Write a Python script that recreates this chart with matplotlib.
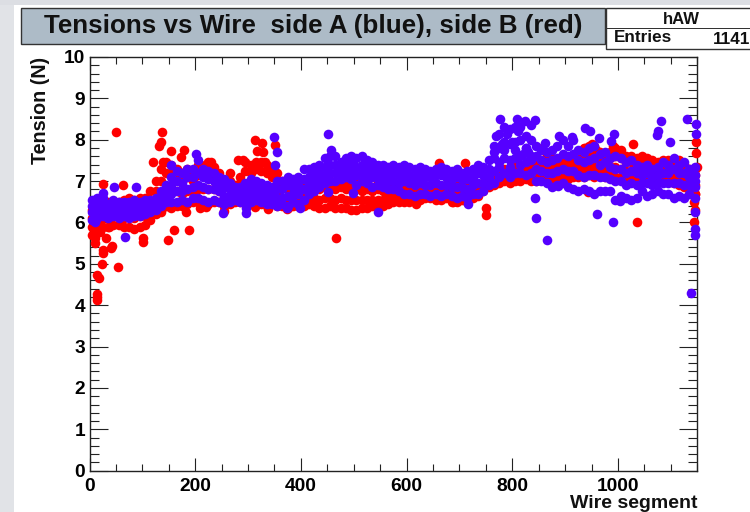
import numpy as np
import matplotlib
matplotlib.use("Agg")
import matplotlib.pyplot as plt
from matplotlib.patches import Rectangle

# wire segment columns, one every 10 wires
wire = np.arange(5, 1155, 10)

blue_top = [6.55,6.6,6.6,6.45,6.55,6.5,6.5,6.5,6.55,6.5,
            6.55,6.55,6.6,6.75,6.9,7.1,7.25,7.2,7.3,7.3,
            7.5,7.3,7.25,7.2,7.1,7.05,6.95,6.85,6.85,6.95,
            7.05,7.0,6.95,6.9,6.85,7.0,7.0,7.1,7.05,7.1,
            7.3,7.3,7.35,7.4,7.55,7.6,7.6,7.45,7.55,7.6,
            7.55,7.6,7.5,7.45,7.4,7.4,7.35,7.4,7.35,7.4,
            7.35,7.3,7.35,7.3,7.25,7.3,7.35,7.3,7.25,7.3,
            7.2,7.25,7.3,7.4,7.35,7.5,7.85,8.15,8.3,8.25,
            8.3,8.3,8.1,8.35,7.85,7.75,7.7,7.75,7.85,8.0,
            7.85,8.0,7.75,7.7,7.8,7.85,7.65,7.7,7.55,7.6,
            7.55,7.45,7.5,7.4,7.35,7.4,7.3,7.35,7.45,7.4,
            7.55,7.4,7.45,7.3,7.35]
blue_upper = [6.4,6.45,6.45,6.35,6.4,6.4,6.35,6.4,6.4,6.4,
              6.4,6.45,6.5,6.6,6.75,6.9,7.0,6.95,7.1,7.1,
              7.2,7.1,7.05,7.0,6.95,6.85,6.8,6.75,6.7,6.8,
              6.85,6.85,6.8,6.75,6.7,6.8,6.8,6.9,6.85,6.9,
              7.05,7.1,7.15,7.2,7.35,7.4,7.4,7.3,7.4,7.4,
              7.35,7.4,7.3,7.3,7.2,7.25,7.15,7.2,7.15,7.2,
              7.15,7.1,7.15,7.1,7.1,7.15,7.15,7.1,7.05,7.1,
              7.05,7.05,7.1,7.2,7.15,7.3,7.55,7.8,7.95,7.9,
              7.95,8.0,7.8,8.0,7.6,7.5,7.45,7.5,7.55,7.65,
              7.6,7.65,7.5,7.45,7.5,7.55,7.4,7.45,7.35,7.3,
              7.3,7.2,7.25,7.2,7.15,7.2,7.1,7.15,7.2,7.2,
              7.3,7.2,7.2,7.1,7.15]
blue_lower = [6.25,6.3,6.3,6.2,6.3,6.25,6.25,6.25,6.3,6.25,
              6.3,6.3,6.4,6.5,6.6,6.7,6.75,6.75,6.8,6.85,
              6.9,6.85,6.8,6.8,6.75,6.65,6.65,6.65,6.6,6.65,
              6.7,6.7,6.65,6.6,6.6,6.6,6.6,6.65,6.7,6.7,
              6.8,6.9,6.95,7.05,7.15,7.2,7.2,7.2,7.25,7.2,
              7.15,7.2,7.15,7.1,7.05,7.05,7.0,7.0,6.95,7.0,
              6.95,6.9,6.95,6.9,6.9,6.95,6.9,6.9,6.85,6.85,
              6.85,6.8,6.9,6.95,6.95,7.1,7.25,7.45,7.55,7.5,
              7.55,7.6,7.45,7.6,7.3,7.25,7.2,7.2,7.25,7.3,
              7.25,7.25,7.15,7.1,7.15,7.15,7.1,7.1,7.05,7.0,
              7.0,6.9,6.95,6.9,6.95,6.95,6.9,6.95,6.95,6.95,
              6.95,6.95,6.9,6.9,6.85]
blue_bottom = [6.05,6.1,6.15,6.1,6.15,6.1,6.15,6.1,6.15,6.15,
               6.2,6.25,6.3,6.4,6.5,6.5,6.5,6.55,6.5,6.6,
               6.6,6.55,6.5,6.55,6.5,6.45,6.5,6.55,6.5,6.55,
               6.5,6.55,6.5,6.45,6.45,6.4,6.45,6.4,6.5,6.45,
               6.55,6.7,6.75,6.85,6.95,7.0,7.0,7.05,7.1,7.05,
               6.9,7.0,6.95,6.85,6.9,6.85,6.8,6.8,6.75,6.7,
               6.7,6.65,6.7,6.7,6.65,6.7,6.65,6.7,6.65,6.6,
               6.65,6.6,6.7,6.7,6.75,6.9,6.95,7.1,7.2,7.15,
               7.2,7.2,7.15,7.2,7.0,7.0,6.95,6.85,6.9,6.95,
               6.85,6.8,6.75,6.8,6.75,6.7,6.75,6.75,6.75,6.55,
               6.65,6.6,6.55,6.6,6.75,6.65,6.7,6.75,6.7,6.7,
               6.6,6.65,6.6,6.7,6.6]

red_top = [6.3,6.4,6.5,6.5,6.5,6.5,6.55,6.6,6.55,6.6,
           6.6,6.75,7.0,7.3,7.45,7.4,7.3,7.2,7.3,7.2,
           7.4,7.35,7.45,7.35,7.2,7.0,7.0,6.9,7.1,7.45,
           7.4,7.45,7.45,7.4,7.3,7.2,7.0,6.95,6.9,6.95,
           6.9,6.95,7.0,6.95,7.0,7.0,6.95,7.0,6.95,7.0,
           6.95,6.9,6.95,6.85,6.95,6.9,6.9,6.85,6.9,6.85,
           6.9,6.85,6.9,6.85,6.85,6.9,6.85,6.9,7.0,6.95,
           6.9,6.85,6.9,6.9,6.95,7.0,7.2,7.25,7.3,7.3,
           7.35,7.3,7.3,7.4,7.45,7.5,7.6,7.55,7.45,7.5,
           7.45,7.5,7.55,7.8,7.85,7.85,7.7,7.6,7.7,7.8,
           7.75,7.6,7.6,7.55,7.6,7.55,7.5,7.45,7.5,7.5,
           7.45,7.5,7.4,7.3,7.3]
red_upper = [6.1,6.2,6.3,6.3,6.3,6.35,6.35,6.4,6.35,6.4,
             6.4,6.5,6.75,7.0,7.2,7.2,7.1,7.0,7.1,7.0,
             7.15,7.15,7.2,7.1,7.0,6.85,6.85,6.8,6.95,7.25,
             7.2,7.3,7.25,7.2,7.1,7.0,6.85,6.8,6.75,6.8,
             6.75,6.8,6.85,6.8,6.85,6.85,6.8,6.85,6.8,6.85,
             6.8,6.75,6.8,6.75,6.8,6.75,6.75,6.75,6.75,6.75,
             6.75,6.75,6.75,6.75,6.75,6.75,6.75,6.8,6.85,6.8,
             6.8,6.75,6.8,6.8,6.85,6.95,7.1,7.15,7.2,7.2,
             7.25,7.2,7.2,7.3,7.3,7.35,7.45,7.4,7.35,7.35,
             7.35,7.35,7.4,7.55,7.6,7.6,7.5,7.45,7.55,7.6,
             7.55,7.45,7.45,7.4,7.45,7.4,7.35,7.35,7.35,7.35,
             7.3,7.3,7.25,7.15,7.15]
red_lower = [5.9,6.0,6.1,6.1,6.15,6.15,6.1,6.15,6.1,6.15,
             6.15,6.25,6.45,6.65,6.8,6.8,6.75,6.7,6.75,6.75,
             6.8,6.8,6.8,6.8,6.75,6.6,6.65,6.65,6.7,6.9,
             6.85,6.9,6.85,6.8,6.8,6.7,6.6,6.55,6.55,6.6,
             6.55,6.6,6.6,6.55,6.6,6.6,6.55,6.6,6.55,6.55,
             6.55,6.55,6.55,6.55,6.55,6.55,6.6,6.6,6.6,6.6,
             6.6,6.65,6.65,6.65,6.7,6.65,6.65,6.7,6.65,6.65,
             6.65,6.6,6.7,6.75,6.8,6.9,7.0,7.05,7.1,7.05,
             7.1,7.1,7.1,7.15,7.15,7.2,7.25,7.2,7.2,7.2,
             7.2,7.2,7.25,7.3,7.35,7.35,7.3,7.25,7.35,7.35,
             7.3,7.25,7.25,7.2,7.25,7.2,7.15,7.2,7.15,7.15,
             7.1,7.1,7.05,7.0,6.9]
red_bottom = [5.7,5.8,5.9,5.9,5.95,5.95,5.9,5.9,5.85,5.9,
              5.95,6.05,6.2,6.25,6.4,6.35,6.4,6.4,6.45,6.5,
              6.5,6.5,6.45,6.5,6.5,6.4,6.45,6.5,6.5,6.55,
              6.5,6.55,6.45,6.4,6.5,6.4,6.4,6.35,6.4,6.4,
              6.4,6.45,6.4,6.35,6.35,6.4,6.35,6.35,6.35,6.3,
              6.3,6.35,6.35,6.4,6.35,6.4,6.45,6.5,6.5,6.5,
              6.5,6.55,6.55,6.6,6.6,6.55,6.55,6.6,6.5,6.5,
              6.55,6.5,6.6,6.65,6.75,6.85,6.9,6.95,7.0,6.95,
              7.0,7.0,7.05,7.0,7.0,7.05,7.0,7.05,7.05,7.1,
              7.05,7.1,7.1,7.1,7.15,7.1,7.15,7.1,7.15,7.1,
              7.1,7.05,7.05,7.0,7.05,7.0,7.0,7.05,7.0,7.0,
              6.95,6.9,6.85,6.8,6.7]

# stray wires away from the main band
red_x = [53,23,14,18,15,15,15,25,40,10,10,26,42,32,37,20,101,101,148,160,189,466,
         182,209,220,314,145,254,337,374,50,138,135,132,154,179,173,120,140,229,
         218,25,63,313,326,316,329,351,281,291,266,332,661,710,617,750,750,688,
         856,1028,1036,1148,1147,1149,1143,1143,943,950,958,938,990,1000,1146,1145]
red_y = [4.92,5.0,4.73,4.65,4.27,4.2,4.13,5.27,5.38,5.62,5.5,5.33,5.42,5.62,5.9,5.78,
         5.62,5.53,5.58,5.82,5.82,5.62,6.26,6.35,6.37,6.37,6.39,6.28,6.33,6.32,
         8.18,8.18,7.95,7.85,7.73,7.76,7.58,7.47,7.47,7.45,7.4,6.92,6.9,7.99,7.92,
         7.72,7.7,7.88,7.5,7.5,7.2,7.47,7.43,7.43,6.44,6.35,6.17,6.5,7.8,7.9,6.02,
         7.95,7.67,7.34,6.5,6.02,6.74,7.9,7.75,7.8,7.85,7.7,6.7,6.3]
blue_x = [777,808,824,842,1081,1131,1148,1147,1076,1073,1098,938,947,964,993,987,912,
          888,862,843,845,866,961,991,1004,716,886,796,1146,1145,1145,1138,1146,
          47,88,26,67,11,201,349,354,351,452,457,252,296,297,398,373,452,499,545,
          155,765,775,785,795,805,815,825,835,770,790,810,830,780,800,820]
blue_y = [8.49,8.49,8.46,8.48,8.46,8.49,8.38,8.15,8.2,8.12,7.94,8.29,8.2,8.05,8.13,7.96,
          8.07,8.09,7.92,6.6,6.12,5.58,6.21,6.0,6.52,6.44,6.88,7.11,6.25,5.85,5.7,4.3,
          7.0,6.85,6.85,6.72,5.66,6.02,7.65,8.07,7.7,7.4,8.15,7.75,6.22,6.22,6.35,
          6.35,6.34,6.73,6.72,6.26,7.4,7.7,7.35,7.75,7.35,7.75,7.4,7.8,7.5,8.1,8.15,
          8.2,7.7,7.9,7.95,7.65]

x_ticks = [0, 200, 400, 600, 800, 1000]
y_ticks = [0, 1, 2, 3, 4, 5, 6, 7, 8, 9, 10]

plt.rcParams['font.family'] = ['Liberation Sans', 'DejaVu Sans']
plt.rcParams['font.weight'] = 'bold'

W, H = 750, 512
dot = 48
fig = plt.figure(figsize=(W / 100, H / 100), dpi=100)


def box(x0, y0, x1, y1, face, edge='none', lw=0):
    # rectangle in image pixels, y measured from the top
    fig.add_artist(Rectangle((x0 / W, 1 - y1 / H), (x1 - x0) / W, (y1 - y0) / H,
                             transform=fig.transFigure, facecolor=face,
                             edgecolor=edge, linewidth=lw))


def label(x, y, s, size, **kw):
    fig.text(x / W, 1 - y / H, s, fontsize=size, fontweight='bold', color='#111111', **kw)


# canvas background strips
box(0, 0, 14, H, '#e1e3e7')
box(0, 0, W, 5, '#dcdee3')

box(21, 8, 605, 44, '#adbbc7', '#333333', 1.0)
label(313, 26, "Tensions vs Wire  side A (blue), side B (red)", 18.7, ha='center', va='center')

box(606, 8, 752, 49, 'white', '#333333', 1.0)
box(606, 28, 752, 28.5, '#333333')
label(681, 19, "hAW", 12, ha='center', va='center')
label(614, 38, "Entries", 12.3, ha='left', va='center')
label(750, 39, "1141", 12.3, ha='right', va='center')

ax = fig.add_axes([89.5 / W, 1 - 470.7 / H, (697.3 - 89.5) / W, (470.7 - 57) / H])
ax.set_xlim(0, 1150)
ax.set_ylim(0, 10)

for row in (red_bottom, red_lower, red_upper, red_top):
    ax.scatter(wire, row, s=dot, color='#ff0000', linewidths=0, zorder=3, clip_on=False)
ax.scatter(red_x, red_y, s=dot, color='#ff0000', linewidths=0, zorder=3, clip_on=False)
for row in (blue_bottom, blue_lower, blue_upper, blue_top):
    ax.scatter(wire, row, s=dot, color='#5500ff', linewidths=0, zorder=4, clip_on=False)
ax.scatter(blue_x, blue_y, s=dot, color='#5500ff', linewidths=0, zorder=4, clip_on=False)

ax.set_xticks(x_ticks)
ax.set_yticks(y_ticks)
ax.set_xticks(np.arange(0, 1151, 50), minor=True)
ax.set_yticks(np.arange(0, 10.01, 0.2), minor=True)
ax.tick_params(axis='x', which='major', direction='in', top=True, length=9.5, width=0.8,
               labelsize=13.8, pad=5, color='#222222')
ax.tick_params(axis='x', which='minor', direction='in', top=True, length=4.7, width=0.8,
               color='#222222')
ax.tick_params(axis='y', which='major', direction='in', right=True, length=13, width=0.8,
               labelsize=13.8, pad=3, color='#222222')
ax.tick_params(axis='y', which='minor', direction='in', right=True, length=6.5, width=0.8,
               color='#222222')
for sp in ax.spines.values():
    sp.set_linewidth(1.0)
    sp.set_color('#222222')

fig.text(41 / W, 1 - 57 / H, "Tension (N)", rotation=90, ha='center', va='top',
         fontsize=14.2, fontweight='bold', color='#111111')
label(697, 504, "Wire segment", 14, ha='right', va='center')

fig.savefig("out.png", dpi=100)
